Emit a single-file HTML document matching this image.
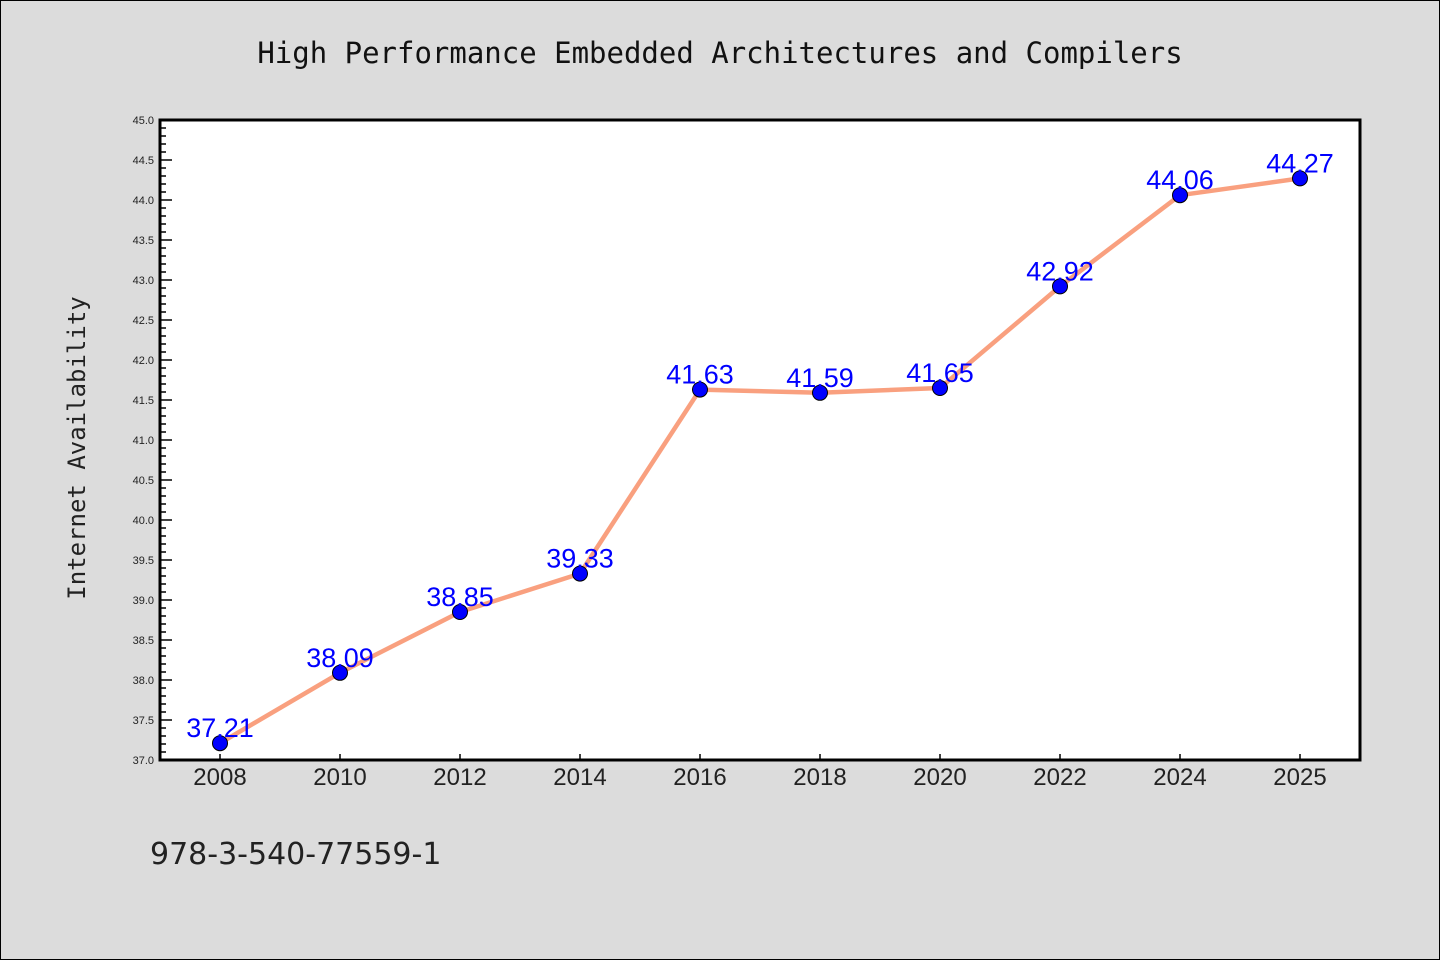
<!DOCTYPE html>
<html><head><meta charset="utf-8"><style>
body{margin:0;background:#dcdcdc;}
svg{display:block;font-family:"Liberation Sans","DejaVu Sans",sans-serif;}
</style></head><body>
<svg id="chart" width="1440" height="960">
<rect x="0.5" y="0.5" width="1439" height="959" fill="#dcdcdc" stroke="#000"/>
<text x="720" y="63" text-anchor="middle" font-family="'DejaVu Sans Mono','Liberation Mono',monospace" font-size="29" fill="#111">High Performance Embedded Architectures and Compilers</text>
<rect x="160" y="120" width="1200" height="640" fill="#fff"/>
<g id="yticks"></g>
<g id="xticks"></g>
<rect x="160" y="120" width="1200" height="640" fill="none" stroke="#000" stroke-width="3"/>
<text transform="translate(85,448) rotate(-90)" text-anchor="middle" font-family="'DejaVu Sans Mono','Liberation Mono',monospace" font-size="24" fill="#222">Internet Availability</text>
<g id="series"></g>
<text x="150" y="864" font-size="30" fill="#222" font-family="'DejaVu Sans','Liberation Sans',sans-serif">978-3-540-77559-1</text>
</svg>
<script>
const categories=["2008","2010","2012","2014","2016","2018","2020","2022","2024","2025"];
const values=[37.21,38.09,38.85,39.33,41.63,41.59,41.65,42.92,44.06,44.27];
const yTickLabels=["37.0","37.5","38.0","38.5","39.0","39.5","40.0","40.5","41.0","41.5","42.0","42.5","43.0","43.5","44.0","44.5","45.0"];
const NS="http://www.w3.org/2000/svg";
const x0=160,x1=1360,yTop=120,yBot=760,yMin=37,yMax=45;
const xs=i=>220+i*(1080/(categories.length-1));
const ys=v=>yBot-(v-yMin)/(yMax-yMin)*(yBot-yTop);
function mk(t,a,p){const e=document.createElementNS(NS,t);for(const k in a)e.setAttribute(k,a[k]);p.appendChild(e);return e;}
const yg=document.getElementById('yticks');
for(let k=0;k<=80;k++){const v=yMin+k*0.1,y=ys(v),maj=k%5==0;
const l=mk('line',{x1:x0,x2:x0+(maj?12:6),y1:y,y2:y,stroke:'#000','stroke-width':1.5},yg);
}
yTickLabels.forEach(s=>{const t=mk('text',{x:x0-6,y:ys(parseFloat(s))+4,'text-anchor':'end','font-size':11,fill:'#222'},yg);t.textContent=s;
});
const xg=document.getElementById('xticks');
categories.forEach((c,i)=>{const x=xs(i);
const l=mk('line',{x1:x,x2:x,y1:yBot,y2:yBot-6,stroke:'#000','stroke-width':1.5},xg);

const t=mk('text',{x:x,y:785,'text-anchor':'middle','font-size':24,fill:'#222'},xg);t.textContent=c;
});
const sg=document.getElementById('series');
const pl=mk('polyline',{points:values.map((v,i)=>xs(i)+','+ys(v)).join(' '),fill:'none',stroke:'#f9a07f','stroke-width':4.5,'stroke-linejoin':'round'},sg);

values.forEach((v,i)=>{const c=mk('circle',{cx:xs(i),cy:ys(v),r:7.5,fill:'#0000ff',stroke:'#000','stroke-width':1},sg);

const t=mk('text',{x:xs(i),y:ys(v)-6,'text-anchor':'middle','font-size':27,fill:'#0000ff'},sg);t.textContent=v.toFixed(2);
});
</script>
</body></html>
